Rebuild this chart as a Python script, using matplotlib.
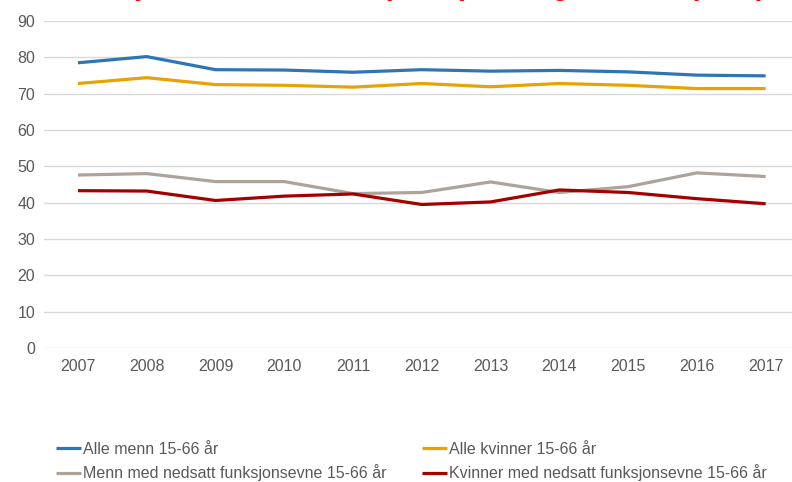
import numpy as np
import matplotlib.pyplot as plt

plt.rcParams['font.family'] = ['Liberation Sans', 'DejaVu Sans']

years = ['2007', '2008', '2009', '2010', '2011', '2012', '2013', '2014', '2015', '2016', '2017']

alle_menn = [78.5, 80.2, 76.6, 76.5, 75.9, 76.6, 76.2, 76.4, 76.0, 75.1, 74.9]
alle_kvinner = [72.8, 74.4, 72.5, 72.3, 71.8, 72.8, 71.9, 72.8, 72.3, 71.4, 71.4]
menn_nedsatt = [47.6, 48.0, 45.8, 45.8, 42.5, 42.8, 45.7, 42.8, 44.4, 48.2, 47.2]
kvinner_nedsatt = [43.3, 43.2, 40.6, 41.8, 42.4, 39.5, 40.2, 43.5, 42.8, 41.1, 39.7]

series = [
    ('Alle menn 15-66 år', alle_menn, '#2E75B6'),
    ('Alle kvinner 15-66 år', alle_kvinner, '#E8A202'),
    ('Menn med nedsatt funksjonsevne 15-66 år', menn_nedsatt, '#ADA39A'),
    ('Kvinner med nedsatt funksjonsevne 15-66 år', kvinner_nedsatt, '#A50000'),
]

fig = plt.figure(figsize=(7.92, 4.82), dpi=100)
# axes spans category bins, right edge runs a bit past the figure
ax = fig.add_axes([43.6 / 792, 134 / 482, 756.4 / 792, 327 / 482])

x = np.arange(len(years))
for label, vals, col in series:
    ax.plot(x, vals, color=col, lw=2.3, label=label, solid_capstyle='butt')

ax.set_xlim(-0.5, len(years) - 0.5)
ax.set_ylim(0, 90)
ax.set_yticks(range(0, 91, 10))
ax.set_xticks(x)
ax.set_xticklabels(years)
ax.grid(axis='y', color='#D9D9D9', lw=1)
ax.set_axisbelow(True)
for s in ax.spines.values():
    s.set_visible(False)
ax.tick_params(length=0, labelsize=11.5, colors='#595959', pad=8)
ax.tick_params(axis='y', pad=6)

# title sits above the canvas, only the descenders show
fig.text(765 / 792, 1 + 5 / 482, 'Andel i jobb blant kvinner (totalt). Utvalg 15-66 år (SSB)',
         ha='right', va='baseline', fontsize=20, fontweight='bold', color='#FF0000')

# legend fills column-wise, so reorder to get row-wise reading order
handles, labels = ax.get_legend_handles_labels()
order = [0, 2, 1, 3]
leg = fig.legend([handles[i] for i in order], [labels[i] for i in order], ncol=2,
                 loc='upper left', bbox_to_anchor=(56 / 792, 1 - 442 / 482), frameon=False,
                 fontsize=11.5, handlelength=1.55, handletextpad=0.15,
                 columnspacing=2.2, labelspacing=0.45, borderpad=0, borderaxespad=0)
for t in leg.get_texts():
    t.set_color('#595959')

fig.savefig('out.png', dpi=100)
